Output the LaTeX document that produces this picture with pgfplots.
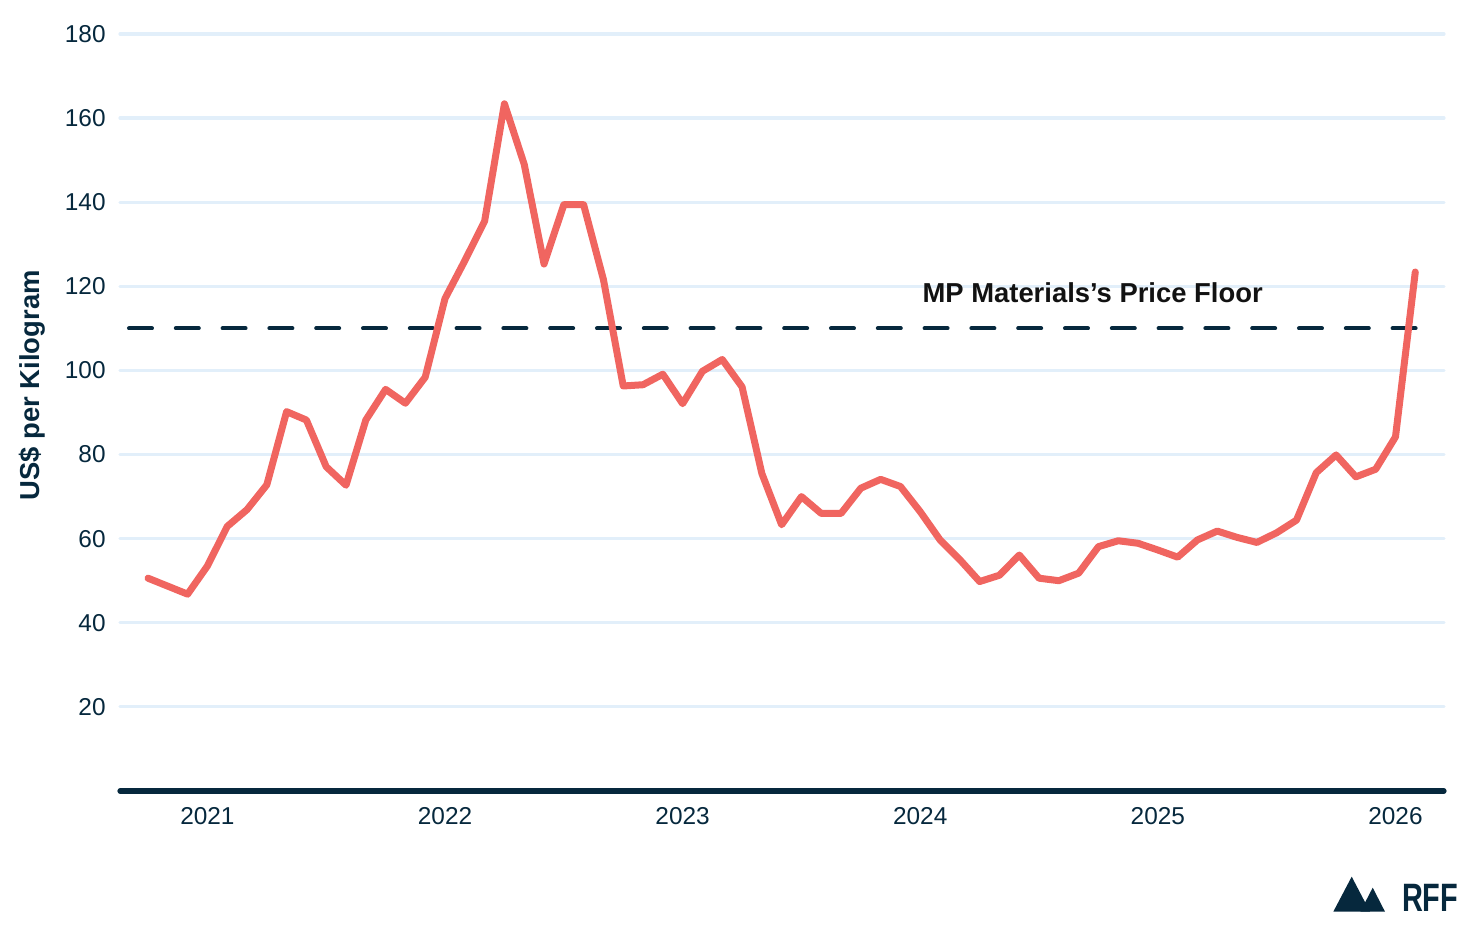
\documentclass[border=0pt]{standalone}
\usepackage{pgfplots}
\pgfplotsset{compat=1.18}
\usepackage{pgfplotstable}
\usepackage{fontspec}
\setmainfont{Liberation Sans}
\definecolor{rffnavy}{RGB}{6,40,61}
\definecolor{rffred}{RGB}{240,101,96}
\definecolor{rffgrid}{RGB}{226,239,250}

\pgfplotstableread{
i v
0 50.6
1 48.7
2 46.8
3 53.5
4 62.9
5 66.9
6 72.8
7 90.2
8 88.2
9 77.1
10 72.7
11 88.2
12 95.5
13 92.2
14 98.4
15 117.1
16 126.1
17 135.5
18 163.4
19 149.0
20 125.3
21 139.4
22 139.4
23 121.6
24 96.3
25 96.6
26 99.1
27 92.1
28 99.8
29 102.6
30 96.1
31 75.5
32 63.3
33 70.0
34 66.0
35 66.0
36 72.0
37 74.1
38 72.4
39 66.4
40 59.7
41 55.0
42 49.8
43 51.3
44 56.1
45 50.6
46 50.0
47 51.8
48 58.1
49 59.5
50 58.9
51 57.3
52 55.6
53 59.7
54 61.8
55 60.3
56 59.1
57 61.4
58 64.4
59 75.7
60 79.9
61 74.7
62 76.5
63 84.2
64 123.4
}\pricedata

\begin{document}
\begin{tikzpicture}
\path[use as bounding box] (0,0) rectangle (740pt,465pt);
\begin{axis}[
  at={(60pt,69.5pt)}, anchor=south west,
  scale only axis, width=662pt, height=378.5pt,
  xmin=-1.414, xmax=65.45, ymin=0, ymax=180,
  axis x line=bottom, axis y line=left,
  x axis line style={-, line width=2.6pt, rffnavy, line cap=round},
  y axis line style={draw=none},
  major tick length=0pt,
  xtick={3,15,27,39,51,63},
  xticklabels={2021,2022,2023,2024,2025,2026},
  ytick={20,40,60,80,100,120,140,160,180},
  ymajorgrids, grid style={rffgrid, line width=1.6pt, line cap=round},
  tick label style={font=\fontsize{12.2}{14}\selectfont, text=rffnavy},
  /pgf/number format/assume math mode=true,
  yticklabel style={anchor=east, inner sep=0pt, xshift=-7pt},
  xticklabel style={anchor=north, inner sep=0pt, yshift=-7.8pt},
  ylabel={US\$ per Kilogram},
  ylabel style={at={(rel axis cs:-0.0665,0.536)}, anchor=center, font=\bfseries\fontsize{13.7}{16}\selectfont, text=rffnavy},
  clip=false,
]
\addplot[rffnavy, line width=2pt, dash pattern=on 11.5pt off 11.9pt, line cap=round] coordinates {(-0.96,110) (64.02,110)};
\addplot[rffred, line width=3.5pt, line join=round, line cap=round] table[x=i,y=v]{\pricedata};
\node[anchor=west, inner sep=0pt, font=\bfseries\fontsize{13.7}{16}\selectfont, text=black!93] at (axis cs:39.1,118.4) {MP Materials’s Price Floor};
\end{axis}
\fill[rffnavy] (666.65pt,9.15pt) -- (675.85pt,26.65pt) -- (685pt,9.15pt) -- cycle;
\fill[rffnavy] (680.15pt,9.15pt) -- (686.35pt,21.15pt) -- (692.5pt,9.15pt) -- cycle;
\node[anchor=base west, inner sep=0pt, text=rffnavy] at (700.85pt,9.15pt) {\scalebox{0.73}[1]{\bfseries\fontsize{19.8}{22}\selectfont RFF}};
\end{tikzpicture}
\end{document}
